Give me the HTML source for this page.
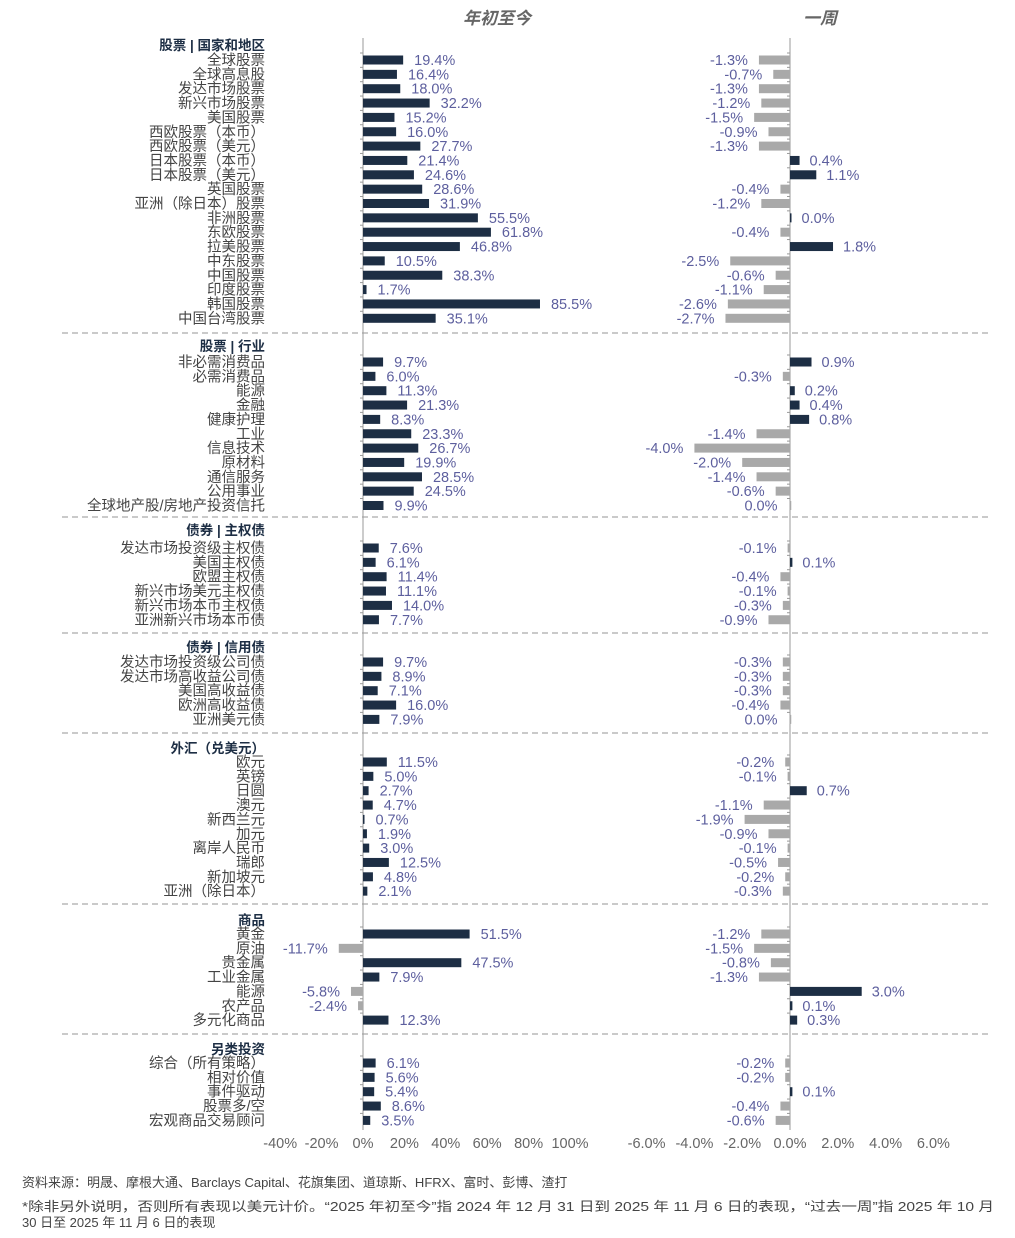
<!DOCTYPE html>
<html><head><meta charset="utf-8"><style>
body{margin:0;background:#fff;}
svg{display:block;font-family:"Liberation Sans","Noto Sans CJK SC",sans-serif;}
</style></head><body>
<svg id="c" width="1015" height="1238" xmlns="http://www.w3.org/2000/svg">
<text x="497" y="24" text-anchor="middle" font-size="17" font-style="italic" font-weight="bold" fill="#666">年初至今</text>
<text x="820" y="24" text-anchor="middle" font-size="17" font-style="italic" font-weight="bold" fill="#666">一周</text>
<text x="22" y="1187" font-size="13" fill="#444">资料来源：明晟、摩根大通、Barclays Capital、花旗集团、道琼斯、HFRX、富时、彭博、渣打</text>
<text x="22" y="1211" font-size="13" fill="#444" textLength="972" lengthAdjust="spacingAndGlyphs">*除非另外说明，否则所有表现以美元计价。“2025 年初至今”指 2024 年 12 月 31 日到 2025 年 11 月 6 日的表现，“过去一周”指 2025 年 10 月</text>
<text x="22" y="1227" font-size="13" fill="#444">30 日至 2025 年 11 月 6 日的表现</text>
</svg>
<script>
const groupTitles=["股票 | 国家和地区","股票 | 行业","债券 | 主权债","债券 | 信用债","外汇（兑美元）","商品","另类投资"];
const groupSizes=[19,11,6,5,10,7,5];
const categories=["全球股票","全球高息股","发达市场股票","新兴市场股票","美国股票","西欧股票（本币）","西欧股票（美元）","日本股票（本币）","日本股票（美元）","英国股票","亚洲（除日本）股票","非洲股票","东欧股票","拉美股票","中东股票","中国股票","印度股票","韩国股票","中国台湾股票",
"非必需消费品","必需消费品","能源","金融","健康护理","工业","信息技术","原材料","通信服务","公用事业","全球地产股/房地产投资信托",
"发达市场投资级主权债","美国主权债","欧盟主权债","新兴市场美元主权债","新兴市场本币主权债","亚洲新兴市场本币债",
"发达市场投资级公司债","发达市场高收益公司债","美国高收益债","欧洲高收益债","亚洲美元债",
"欧元","英镑","日圆","澳元","新西兰元","加元","离岸人民币","瑞郎","新加坡元","亚洲（除日本）",
"黄金","原油","贵金属","工业金属","能源","农产品","多元化商品",
"综合（所有策略）","相对价值","事件驱动","股票多/空","宏观商品交易顾问"];
const ytdValues=[19.4,16.4,18.0,32.2,15.2,16.0,27.7,21.4,24.6,28.6,31.9,55.5,61.8,46.8,10.5,38.3,1.7,85.5,35.1,
9.7,6.0,11.3,21.3,8.3,23.3,26.7,19.9,28.5,24.5,9.9,
7.6,6.1,11.4,11.1,14.0,7.7,
9.7,8.9,7.1,16.0,7.9,
11.5,5.0,2.7,4.7,0.7,1.9,3.0,12.5,4.8,2.1,
51.5,-11.7,47.5,7.9,-5.8,-2.4,12.3,
6.1,5.6,5.4,8.6,3.5];
const weekValues=[-1.3,-0.7,-1.3,-1.2,-1.5,-0.9,-1.3,0.4,1.1,-0.4,-1.2,0.01,-0.4,1.8,-2.5,-0.6,-1.1,-2.6,-2.7,
0.9,-0.3,0.2,0.4,0.8,-1.4,-4.0,-2.0,-1.4,-0.6,-0.01,
-0.1,0.1,-0.4,-0.1,-0.3,-0.9,
-0.3,-0.3,-0.3,-0.4,-0.01,
-0.2,-0.1,0.7,-1.1,-1.9,-0.9,-0.1,-0.5,-0.2,-0.3,
-1.2,-1.5,-0.8,-1.3,3.0,0.1,0.3,
-0.2,-0.2,0.1,-0.4,-0.6];
const ytdTicks=[-40,-20,0,20,40,60,80,100];
const weekTicks=[-6,-4,-2,0,2,4,6];

const headerY=[45,346,530,647,748,920,1049];
const firstRowY=[60,362,548,662,762,934,1063];
const sepY=[333,517,633,733,904,1034];
const rowStep=14.35;
const xY=v=>363+v*2.07;
const xW=v=>790+v*23.9;
const NAVY="#1d2e44",GRAY="#a9a9a9",LBL="#5d5f9e";
const FS=14.5;
const svg=document.getElementById('c');
const NS="http://www.w3.org/2000/svg";
function mk(tag,attrs,text){const e=document.createElementNS(NS,tag);for(const k in attrs)e.setAttribute(k,attrs[k]);if(text!==undefined)e.textContent=text;svg.appendChild(e);return e;}
const fmt=v=>(Math.abs(v)<0.05?0:v).toFixed(1)+'%';

sepY.forEach(y=>{
  const l=mk('line',{x1:62,x2:992,y1:y,y2:y,stroke:'#aaa','stroke-width':1.2,'stroke-dasharray':'6,4'});
  
  
});
[363,790].forEach(x=>{
  const a=mk('line',{x1:x,x2:x,y1:38,y2:1130,stroke:'#999','stroke-width':1});
  
  
});
ytdTicks.forEach(t=>{
  const e=mk('text',{x:xY(t),y:1148,'text-anchor':'middle','font-size':FS,fill:'#666'},t+'%');
  
  
});
weekTicks.forEach(t=>{
  const e=mk('text',{x:xW(t),y:1148,'text-anchor':'middle','font-size':FS,fill:'#666'},t.toFixed(1)+'%');
  
  
});
let idx=0;
groupSizes.forEach((n,g)=>{
  const h=mk('text',{x:265,y:headerY[g]+5,'text-anchor':'end','font-size':13.5,'font-weight':'bold',fill:'#1d2e44'},groupTitles[g]);
  
  
  for(let r=0;r<n;r++,idx++){
    const y=firstRowY[g]+r*rowStep;
    const lb=mk('text',{x:265,y:y+5,'text-anchor':'end','font-size':FS,fill:'#444'},categories[idx]);
    
    
    [363,790].forEach(ax=>{
      const tk=mk('line',{x1:ax-3,x2:ax,y1:y-7,y2:y-7,stroke:'#999'});
      
      
    });
    const v=ytdValues[idx];
    const x0=Math.min(xY(0),xY(v)),w=Math.max(Math.abs(xY(v)-xY(0)),1.5);
    const b=mk('rect',{x:x0,y:y-4.5,width:w,height:9,fill:v>=0?NAVY:GRAY});
    
    
    const t=v>=0?mk('text',{x:xY(v)+11,y:y+5,'font-size':FS,fill:LBL},fmt(v)):mk('text',{x:xY(v)-11,y:y+5,'text-anchor':'end','font-size':FS,fill:LBL},fmt(v));
    
    
    const u=weekValues[idx];
    const x1=Math.min(xW(0),xW(u)),w1=Math.max(Math.abs(xW(u)-xW(0)),1.5);
    const b2=mk('rect',{x:x1,y:y-4.5,width:w1,height:9,fill:u>=0?NAVY:GRAY});
    
    
    const t2=u>=0?mk('text',{x:Math.max(xW(u),xW(0)+1.5)+10,y:y+5,'font-size':FS,fill:LBL},fmt(u)):mk('text',{x:Math.min(xW(u),xW(0)-1.5)-11,y:y+5,'text-anchor':'end','font-size':FS,fill:LBL},fmt(u));
    
    
  }
});
</script>
</body></html>
